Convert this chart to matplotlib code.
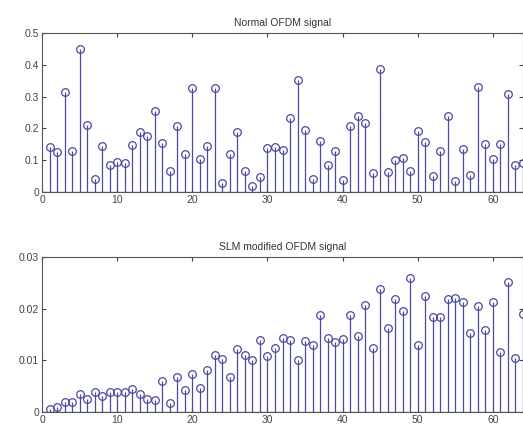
import numpy as np
import matplotlib.pyplot as plt

plt.rcParams['font.family'] = ['Liberation Sans', 'DejaVu Sans']

n = np.arange(1, 65)

normal_ofdm = [0.14, 0.126, 0.313, 0.128, 0.449, 0.21, 0.04, 0.145, 0.084, 0.093,
               0.092, 0.147, 0.19, 0.177, 0.256, 0.155, 0.065, 0.207, 0.121, 0.328,
               0.105, 0.145, 0.326, 0.028, 0.121, 0.19, 0.066, 0.019, 0.047, 0.137,
               0.142, 0.132, 0.232, 0.353, 0.195, 0.042, 0.161, 0.084, 0.128, 0.037,
               0.206, 0.239, 0.218, 0.06, 0.386, 0.063, 0.102, 0.107, 0.066, 0.193,
               0.158, 0.05, 0.129, 0.239, 0.034, 0.135, 0.053, 0.33, 0.15, 0.105,
               0.15, 0.308, 0.084, 0.09]

slm_ofdm = [0.0006, 0.001, 0.002, 0.002, 0.0034, 0.0026, 0.0039, 0.0031, 0.0039, 0.0039,
            0.0039, 0.0045, 0.0035, 0.0025, 0.0023, 0.006, 0.0018, 0.0067, 0.0043, 0.0073,
            0.0047, 0.0082, 0.011, 0.0103, 0.0068, 0.0121, 0.011, 0.01, 0.014, 0.0108,
            0.0123, 0.0143, 0.014, 0.0101, 0.0137, 0.0129, 0.0187, 0.0144, 0.0135, 0.0142,
            0.0187, 0.0148, 0.0208, 0.0124, 0.0239, 0.0163, 0.0218, 0.0195, 0.026, 0.013,
            0.0224, 0.0183, 0.0183, 0.0218, 0.0221, 0.0213, 0.0152, 0.0205, 0.0159, 0.0213,
            0.0117, 0.0252, 0.0105, 0.019]

blue = '#4a4aa0'

fig = plt.figure(figsize=(5.23, 4.30), dpi=100)
ax1 = fig.add_axes([42 / 523, 238 / 430, 481 / 523, 159 / 430])
ax2 = fig.add_axes([42 / 523, 18 / 430, 481 / 523, 155 / 430])


def draw(ax, y, title, ymax, yticks, ylabels):
    ml, sl, bl = ax.stem(n, y, basefmt=' ')
    plt.setp(sl, color=blue, linewidth=0.9)
    plt.setp(ml, marker='o', markersize=5.5, markerfacecolor='none',
             markeredgecolor=blue, markeredgewidth=0.9)
    ax.axhline(0, color=blue, linewidth=0.9)
    ax.set_xlim(0, 64)
    ax.set_ylim(0, ymax)
    ax.set_xticks(range(0, 61, 10))
    ax.set_yticks(yticks)
    ax.set_yticklabels(ylabels)
    ax.tick_params(direction='in', length=3, labelsize=7.5, top=True, right=True,
                   colors='#444444', pad=2)
    for s in ax.spines.values():
        s.set_color('#555555')
        s.set_linewidth(0.8)
    ax.set_title(title, fontsize=7.5, color='#333333', pad=5)


draw(ax1, normal_ofdm, 'Normal OFDM signal', 0.5,
     [0, 0.1, 0.2, 0.3, 0.4, 0.5], ['0', '0.1', '0.2', '0.3', '0.4', '0.5'])
draw(ax2, slm_ofdm, 'SLM modified OFDM signal', 0.03,
     [0, 0.01, 0.02, 0.03], ['0', '0.01', '0.02', '0.03'])

fig.savefig('out.png', dpi=100)
